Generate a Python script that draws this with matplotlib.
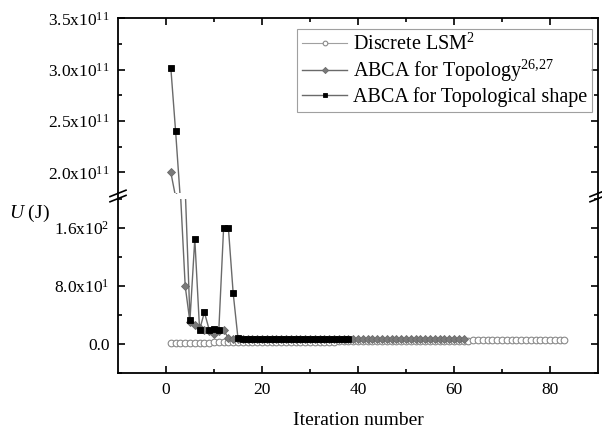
import numpy as np
import matplotlib
matplotlib.use("Agg")
import matplotlib.pyplot as plt
from matplotlib.lines import Line2D

plt.rcParams['font.family'] = ['Liberation Serif', 'DejaVu Serif']
plt.rcParams['mathtext.fontset'] = 'custom'
plt.rcParams['mathtext.rm'] = 'Liberation Serif'
plt.rcParams['mathtext.it'] = 'Liberation Serif:italic'

# ---------------- data ----------------
lsm_values = [2.0, 2.1, 2.1, 2.2, 2.2, 2.3, 2.3, 2.4, 2.4, 2.5,
              2.5, 2.6, 2.6, 2.7, 2.7, 2.8, 2.8, 2.9, 2.9, 3.0,
              3.0, 3.1, 3.1, 3.2, 3.2, 3.3, 3.3, 3.4, 3.4, 3.5,
              3.5, 3.6, 3.6, 3.7, 3.7, 3.8, 3.8, 3.9, 3.9, 4.0,
              4.0, 4.1, 4.1, 4.2, 4.2, 4.3, 4.3, 4.4, 4.4, 4.5,
              4.5, 4.6, 4.6, 4.7, 4.7, 4.8, 4.8, 4.9, 4.9, 5.0,
              5.0, 5.1, 5.1, 5.2, 5.2, 5.3, 5.3, 5.4, 5.4, 5.5,
              5.5, 5.6, 5.6, 5.7, 5.7, 5.8, 5.8, 5.9, 5.9, 6.0,
              6.0, 6.1, 6.1]

topo_values = [2.0e11, 1.76e11, 210, 80, 30, 26, 22, 20, 18, 14,
               18, 19, 9, 7, 7, 7, 7, 7, 7, 7,
               7, 7, 7, 7, 7, 7, 7, 7, 7, 7,
               7, 7, 7, 7, 7, 7, 7, 7, 7, 7,
               7, 7, 7, 7, 7, 7, 7, 7, 7, 7,
               7, 7, 7, 7, 7, 7, 7, 7, 7, 7,
               7, 7]

shape_values = [3.02e11, 2.40e11, 1.73e11, 215, 34, 145, 20, 44, 20, 21,
                19, 160, 160, 70, 8, 7.8, 7.8, 7.8, 7.8, 7.8,
                7.8, 7.8, 7.8, 7.8, 7.8, 7.8, 7.8, 7.8, 7.8, 7.8,
                7.8, 7.8, 7.8, 7.8, 7.8, 7.8, 7.8, 7.8]

series_labels = ['Discrete LSM$^{2}$',
                 'ABCA for Topology$^{26{,}27}$',
                 'ABCA for Topological shape']

x_ticks = [0, 20, 40, 60, 80]
upper_ticks = [2.0e11, 2.5e11, 3.0e11, 3.5e11]
upper_tick_labels = ['2.0x10$^{11}$', '2.5x10$^{11}$', '3.0x10$^{11}$', '3.5x10$^{11}$']
lower_ticks = [0, 80, 160]
lower_tick_labels = ['0.0', '8.0x10$^{1}$', '1.6x10$^{2}$']

# ---------------- figure ----------------
W, H = 602, 432
fig = plt.figure(figsize=(W / 100, H / 100), dpi=100)

left, right = 118 / W, 598 / W
up_top, up_bot = 1 - 18.3 / H, 1 - 192.8 / H
lo_top, lo_bot = 1 - 199 / H, 1 - 373.3 / H

ax_up = fig.add_axes([left, up_bot, right - left, up_top - up_bot])
ax_lo = fig.add_axes([left, lo_bot, right - left, lo_top - lo_bot], sharex=ax_up)

line_col = '#6a6a6a'
styles = [
    dict(marker='o', markersize=4.8, markerfacecolor='white', markeredgecolor='#8a8a8a',
         markeredgewidth=0.8, color='#a0a0a0', linewidth=0.8),
    dict(marker='D', markersize=4.5, markerfacecolor='#7a7a7a', markeredgecolor='#6a6a6a',
         markeredgewidth=0.6, color=line_col, linewidth=1.0),
    dict(marker='s', markersize=4.8, markerfacecolor='black', markeredgecolor='black',
         markeredgewidth=0.6, color=line_col, linewidth=1.0),
]
all_series = [lsm_values, topo_values, shape_values]

handles = []
for ax in (ax_up, ax_lo):
    for vals, st, lab in zip(all_series, styles, series_labels):
        xs = np.arange(1, len(vals) + 1)
        h, = ax.plot(xs, vals, label=lab, **st)
        if ax is ax_up:
            handles.append(h)

ax_up.set_xlim(-10, 90)
ax_up.set_ylim(1.8e11, 3.5e11)
ax_lo.set_ylim(-40, 200)

ax_up.set_yticks(upper_ticks)
ax_up.set_yticklabels(upper_tick_labels)
ax_up.set_yticks([2.25e11, 2.75e11, 3.25e11], minor=True)
ax_lo.set_yticks(lower_ticks)
ax_lo.set_yticklabels(lower_tick_labels)
ax_lo.set_yticks([-40, 40, 120, 200], minor=True)

ax_lo.set_xticks(x_ticks)
ax_lo.set_xticks([10, 30, 50, 70], minor=True)

for ax in (ax_up, ax_lo):
    for s in ax.spines.values():
        s.set_linewidth(1.3)
    ax.tick_params(which='both', direction='in', labelsize=12.5, width=1.2, pad=6,
                   right=True, top=(ax is ax_up), bottom=(ax is ax_lo))
    ax.tick_params(which='major', length=5)
    ax.tick_params(which='minor', length=3)

ax_up.spines['bottom'].set_visible(False)
ax_lo.spines['top'].set_visible(False)
ax_up.tick_params(labelbottom=False, bottom=False, which='both')
ax_up.tick_params(top=True, which='both')

ax_lo.set_xlabel('Iteration number', fontsize=14, labelpad=10)
fig.text(9 / W, 1 - 213 / H, '$U$ (J)', fontsize=14, ha='left', va='center')

# spine continuation across the break
for xpx in (118, 598):
    fig.add_artist(Line2D([xpx / W, xpx / W], [up_bot, lo_top], transform=fig.transFigure,
                          color='black', linewidth=1.3))
    for dy in (-2.6, 2.6):
        yc = 196 + dy
        fig.add_artist(Line2D([(xpx - 8) / W, (xpx + 8) / W],
                              [1 - (yc + 3.2) / H, 1 - (yc - 3.2) / H],
                              transform=fig.transFigure, color='black', linewidth=1.2))

leg = ax_up.legend(handles=handles, loc='upper right',
                   bbox_to_anchor=((592 - 118) / 480, (192.8 - 29) / 174.5),
                   fontsize=14.5, frameon=True, fancybox=False, edgecolor='#888888',
                   handlelength=2.2, handletextpad=0.3, borderpad=0.25, labelspacing=0.15,
                   borderaxespad=0.0, markerscale=0.7)
leg.get_frame().set_linewidth(0.8)

fig.savefig('out.png', dpi=100)
